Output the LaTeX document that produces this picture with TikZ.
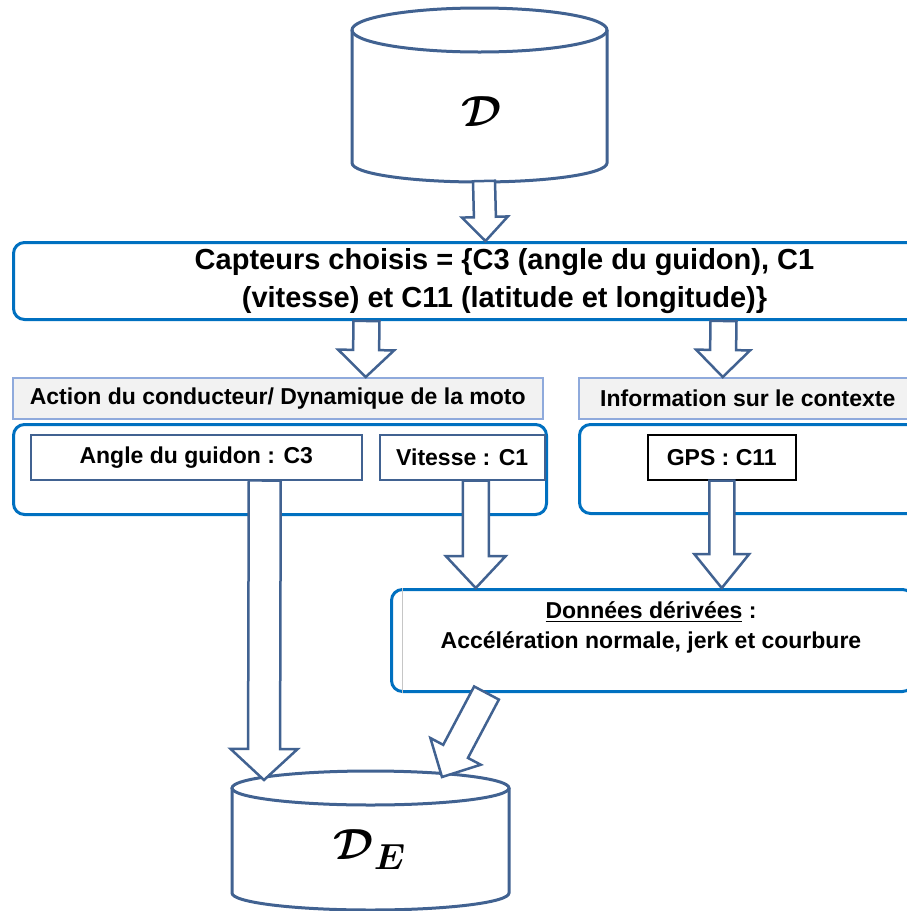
\documentclass[tikz,border=0pt]{standalone}
\usepackage{fontspec}
\usepackage{amsmath}
\setmainfont{Liberation Sans}
\usetikzlibrary{calc}

\definecolor{bleubord}{RGB}{0,112,192}
\definecolor{bleufleche}{RGB}{65,98,145}
\definecolor{bordentete}{RGB}{143,170,220}
\definecolor{fondentete}{RGB}{242,242,242}

\tikzset{
  cadre/.style={draw=bleubord, line width=3pt, rounded corners=11pt, anchor=north west},
  entete/.style={draw=bordentete, fill=fondentete, line width=1.5pt, anchor=north west,
    font=\fontsize{23}{28}\selectfont\bfseries},
  capteur/.style={draw=bleufleche, fill=white, line width=1.5pt, anchor=north west,
    font=\fontsize{23}{28}\selectfont\bfseries},
  cylindre/.style={draw=bleufleche, line width=3pt},
  fleche/.style={draw=bleufleche, fill=white, line width=2.5pt},
  base/.style={scale=1.75, font=\Huge},
}

% fat hollow arrow: from, to, half shaft, half head, head length
\newcommand{\grossefleche}[5]{%
  \coordinate (col) at ($(#2)!#5!(#1)$);
  \draw[fleche] ($(#1)!#3!90:(#2)$) -- ($(col)!#3!90:(#2)$) -- ($(col)!#4!90:(#2)$) -- (#2)
    -- ($(col)!#4!-90:(#2)$) -- ($(col)!#3!-90:(#2)$) -- ($(#1)!#3!-90:(#2)$) -- cycle;}

\begin{document}
\begin{tikzpicture}[x=1pt,y=-1pt]
  \useasboundingbox[fill=white] (0,0) rectangle (907,911);

  % source database
  \draw[cylindre, fill=white] (352,30) -- (352,163) arc[start angle=180, end angle=360, x radius=127.5pt, y radius=19pt] -- (607,30);
  \draw[cylindre] (479.5,30) ellipse [x radius=127.5pt, y radius=22pt];
  \node[base] (d) at (482,112) {$\boldsymbol{\mathcal{D}}$};
  \coordinate (dbas) at (484,181);

  % chosen sensors
  \node[cadre, minimum width=982pt, minimum height=77pt, align=center,
    font=\fontsize{29}{38}\selectfont\bfseries] (capteurs) at (12,241)
    {Capteurs choisis = \{C3 (angle du guidon), C1\\(vitesse) et C11 (latitude et longitude)\}};

  % headers
  \node[entete, minimum width=530pt, minimum height=41pt] (action) at (12,377)
    {Action du conducteur/ Dynamique de la moto};
  \node[entete, minimum width=338pt, minimum height=41pt] (info) at (578,377)
    {Information sur le contexte};

  % groups
  \node[cadre, minimum width=533pt, minimum height=90pt] (groupe1) at (12,423) {};
  \node[cadre, minimum width=345pt, minimum height=89pt] (groupe2) at (578,423) {};

  \node[capteur, minimum width=331pt, minimum height=45pt] (angle) at (30,434) {Angle du guidon : C3};
  \node[capteur, minimum width=165pt, minimum height=45pt] (vitesse) at (379,434) {Vitesse : C1};
  \node[capteur, draw=black, minimum width=148pt, minimum height=45pt] (gps) at (647,434) {GPS : C11};

  % derived data
  \node[cadre, minimum width=522pt, minimum height=102pt] (derivees) at (390,588) {};
  \draw[gray!45, line width=0.8pt] ([xshift=12pt]derivees.north west) -- ([xshift=12pt]derivees.south west);
  \node[align=center, font=\fontsize{23}{30}\selectfont\bfseries] (derivtxt) at (651,627)
    {\underline{Données dérivées} :\\Accélération normale, jerk et courbure};

  % enriched database
  \draw[cylindre, fill=white] (232,788) -- (232,893) arc[start angle=180, end angle=360, x radius=138.5pt, y radius=17pt] -- (509,788);
  \draw[cylindre] (370.5,788) ellipse [x radius=138.5pt, y radius=17pt];
  \node[base] (de) at (370,850) {$\boldsymbol{\mathcal{D}}_{\boldsymbol{E}}$};
  \coordinate (de1) at (264,780);
  \coordinate (de2) at (442,777);

  % arrows
  \coordinate (c0) at ([xshift=-19pt]capteurs.north);
  \grossefleche{dbas}{c0}{11pt}{23pt}{24pt}
  \coordinate (c1) at ([xshift=-138pt]capteurs.south);
  \coordinate (a1) at ([xshift=88pt]action.north);
  \grossefleche{c1}{a1}{13pt}{28pt}{27pt}
  \coordinate (c2) at ([xshift=219pt]capteurs.south);
  \coordinate (i1) at ([xshift=-25pt]info.north);
  \grossefleche{c2}{i1}{13pt}{27pt}{27pt}
  \coordinate (v0) at ([xshift=13.5pt]vitesse.south);
  \coordinate (v1) at (v0 |- derivees.north);
  \grossefleche{v0}{v1}{13pt}{30pt}{32pt}
  \coordinate (g1) at (gps.south |- derivees.north);
  \grossefleche{gps.south}{g1}{12.5pt}{27.5pt}{34pt}
  \coordinate (a0) at ([xshift=68.5pt]angle.south);
  \grossefleche{a0}{de1}{16pt}{33.5pt}{31pt}
  \coordinate (dv0) at ([xshift=-166pt]derivees.south);
  \grossefleche{dv0}{de2}{14pt}{28.5pt}{29pt}
\end{tikzpicture}
\end{document}
